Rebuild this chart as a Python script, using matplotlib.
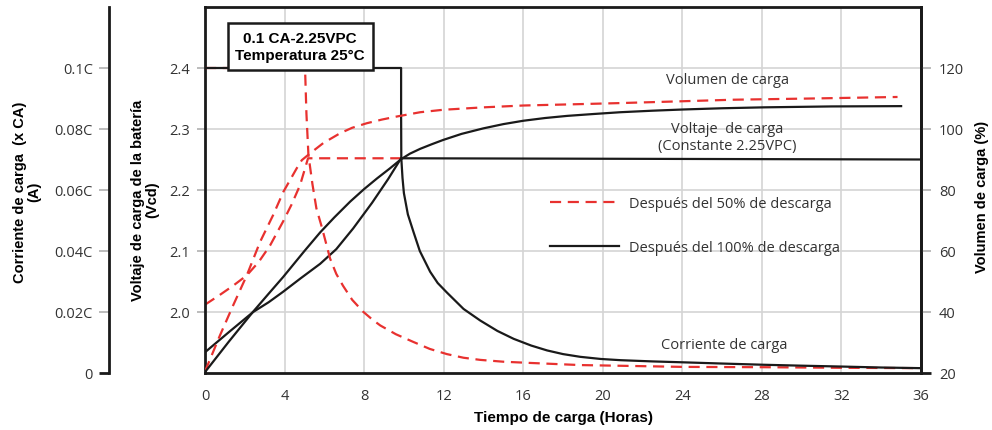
import numpy as np
import matplotlib
matplotlib.use('Agg')
import matplotlib.pyplot as plt

'''
DATA (read off the reference)
'''
# 100% discharge - voltage (Vcd)
v100_t = [0, 1.2, 2.42, 3.2, 3.92, 4.8, 5.79, 6.6, 7.45, 8.4, 9.21, 9.86, 36]
v100_v = [1.934, 1.967, 2.0, 2.016, 2.033, 2.055, 2.079, 2.103, 2.137, 2.179,
          2.218, 2.252, 2.250]

# 50% discharge - voltage (Vcd)
v50_t = [0, 0.7, 1.41, 2.10, 2.7, 3.27, 3.92, 4.35, 4.78, 5.18, 9.86]
v50_v = [2.012, 2.027, 2.043, 2.060, 2.082, 2.109, 2.148, 2.176, 2.208,
         2.252, 2.252]

# 100% discharge - charge volume (%)
q100_t = [0, 1.2, 2.42, 3.2, 3.92, 5.0, 5.79, 6.5, 7.30, 8.0, 8.65, 9.3,
          9.86, 10.3, 10.82, 11.4, 11.97, 12.9, 13.99, 15.0, 16.0, 17.1,
          18.21, 19.5, 20.88, 22.5, 24.05, 26.0, 28.1, 31.5, 35.0]
q100_q = [20.3, 30.3, 40.1, 46.0, 51.4, 60.0, 66.1, 71.0, 76.2, 80.3, 83.8,
          87.1, 90.1, 91.9, 93.5, 95.0, 96.4, 98.4, 100.2, 101.6, 102.7,
          103.6, 104.3, 104.9, 105.5, 106.0, 106.4, 106.8, 107.1, 107.4, 107.5]

# 50% discharge - charge volume (%)
q50_t = [0, 0.75, 1.41, 2.10, 2.77, 3.42, 3.94, 4.61, 4.87, 5.28, 5.95,
         6.79, 7.4, 8.14, 8.9, 9.65, 10.82, 11.97, 14.0, 16.0, 18.5, 20.88,
         23.5, 26.57, 30.5, 34.82]
q50_q = [20.5, 32.3, 42.1, 52.0, 63.0, 71.7, 79.4, 87.1, 89.8, 92.0, 95.4,
         98.6, 100.4, 101.9, 103.1, 104.1, 105.5, 106.3, 107.1, 107.7, 108.1,
         108.5, 109.0, 109.6, 110.0, 110.5]

# 100% discharge - charge current (x CA)
c100_t = [0, 9.86, 9.86, 9.87, 9.93, 10.0, 10.2, 10.48, 10.8, 11.32, 11.7,
          12.16, 13.0, 13.84, 14.7, 15.52, 16.4, 17.2, 18.0, 18.87, 19.9,
          20.9, 22.5, 24.05, 26.0, 28.1, 30.0, 32.1, 34.0, 35.9]
c100_c = [0.1, 0.1, 0.085, 0.0704, 0.064, 0.059, 0.052, 0.0463, 0.040,
          0.0332, 0.0295, 0.0264, 0.021, 0.0172, 0.0138, 0.0112, 0.0090,
          0.0074, 0.0062, 0.0053, 0.0046, 0.0042, 0.0038, 0.0035, 0.0031,
          0.0027, 0.0024, 0.0021, 0.0018, 0.0016]

# 50% discharge - charge current (x CA)
c50_t = [0, 5.03, 5.1, 5.2, 5.4, 5.6, 5.87, 6.29, 6.6, 6.94, 7.4, 7.95, 8.4,
         8.81, 9.6, 10.47, 11.3, 12.16, 13.0, 13.84, 15.0, 16.35, 18.87,
         21.5, 24.05, 28.1, 32.1, 35.8]
c50_c = [0.1, 0.1, 0.085, 0.0715, 0.062, 0.054, 0.0479, 0.0375, 0.0325,
         0.0286, 0.024, 0.0201, 0.0176, 0.0156, 0.0127, 0.0102, 0.0079,
         0.0062, 0.0050, 0.0043, 0.0037, 0.0033, 0.0026, 0.0023, 0.0020,
         0.0019, 0.0017, 0.0016]

x_ticks = [0, 4, 8, 12, 16, 20, 24, 28, 32, 36]
v_ticks = [2.0, 2.1, 2.2, 2.3, 2.4]
c_ticks = [0, 0.02, 0.04, 0.06, 0.08, 0.1]
c_labels = ['0', '0.02C', '0.04C', '0.06C', '0.08C', '0.1C']
q_ticks = [20, 40, 60, 80, 100, 120]

'''
STYLE
'''
RED = '#e8312f'
BLK = '#1a1a1a'
GRID = '#d4d4d4'
LW = 1.6
DASH = (5, 3)
plain = ['Open Sans', 'DejaVu Sans']
bold = ['Liberation Sans Narrow', 'Liberation Sans', 'DejaVu Sans']
plt.rcParams['font.family'] = plain

fig = plt.figure(figsize=(9.92, 4.31), dpi=100)
ax = fig.add_axes([205/992, 57/431, 716/992, 366/431])
ax_c = ax.twinx()
ax_q = ax.twinx()

# voltage axis (inner left)
ax.set_xlim(0, 36)
ax.set_ylim(1.9, 2.5)
ax.set_xticks(x_ticks)
ax.set_yticks(v_ticks)
ax.set_yticklabels(['%.1f' % v for v in v_ticks])
ax.grid(True, color=GRID, lw=1.2)
ax.tick_params(axis='y', length=6, width=1.2, color='#b0b0b0', pad=5,
               labelsize=10.5, labelcolor='#333333')
ax.tick_params(axis='x', length=0, pad=11, labelsize=10.5, labelcolor='#333333')
ax.set_xticks([0, 36], minor=True)
ax.tick_params(axis='x', which='minor', length=7, width=1.6, color=BLK)
for s in ax.spines.values():
    s.set_linewidth(2)
    s.set_color(BLK)

# current axis (outer left)
ax_c.set_ylim(0, 0.12)
ax_c.yaxis.set_ticks_position('left')
ax_c.yaxis.set_label_position('left')
ax_c.spines['left'].set_position(('axes', -0.134))
ax_c.spines['left'].set_linewidth(2)
ax_c.spines['left'].set_color(BLK)
for k in ['right', 'top', 'bottom']:
    ax_c.spines[k].set_visible(False)
ax_c.set_yticks(c_ticks)
ax_c.set_yticklabels(c_labels)
ax_c.tick_params(axis='y', length=7.5, width=1.2, color='#b0b0b0', pad=4,
                 labelsize=10.5, labelcolor='#333333')
t0 = ax_c.yaxis.get_major_ticks()[0].tick1line
t0.set_markeredgecolor(BLK)
t0.set_markeredgewidth(2)

# charge volume axis (right)
ax_q.set_ylim(20, 140)
ax_q.set_yticks(q_ticks)
for k in ['left', 'top', 'bottom']:
    ax_q.spines[k].set_visible(False)
ax_q.spines['right'].set_linewidth(2)
ax_q.spines['right'].set_color(BLK)
ax_q.tick_params(axis='y', length=7, width=1.2, color='#b0b0b0', pad=6,
                 labelsize=10.5, labelcolor='#333333')
t20 = ax_q.yaxis.get_major_ticks()[0].tick2line
t20.set_markeredgecolor(BLK)
t20.set_markeredgewidth(2)

# curves
ax.plot(v50_t, v50_v, color=RED, lw=LW, dashes=DASH)
ax.plot(v100_t, v100_v, color=BLK, lw=LW)
ax_q.plot(q50_t, q50_q, color=RED, lw=LW, dashes=DASH)
ax_q.plot(q100_t, q100_q, color=BLK, lw=LW)
l50, = ax_c.plot(c50_t, c50_c, color=RED, lw=LW, dashes=DASH,
                 label='Después del 50% de descarga')
l100, = ax_c.plot(c100_t, c100_c, color=BLK, lw=LW,
                  label='Después del 100% de descarga')

leg = ax_q.legend(handles=[l50, l100], loc='upper left',
                  bbox_to_anchor=(0.482, 0.483), frameon=False,
                  handlelength=4.7, handletextpad=0.7, labelspacing=2.0,
                  borderpad=0, borderaxespad=0, fontsize=10.5)
for t in leg.get_texts():
    t.set_color('#333333')

# annotations
ax_q.text(0.133, 0.892, '0.1 CA-2.25VPC\nTemperatura 25°C', transform=ax.transAxes,
          ha='center', va='center', fontsize=11, fontweight='bold',
          family=bold, linespacing=1.3, zorder=10,
          bbox=dict(boxstyle='square,pad=0.5', fc='white', ec=BLK, lw=1.8))
ax.text(26.26, 2.381, 'Volumen de carga', ha='center', va='center',
        fontsize=10.5, color='#333333')
ax.text(26.26, 2.287, 'Voltaje  de carga\n(Constante 2.25VPC)', ha='center',
        va='center', fontsize=10.5, color='#333333', linespacing=1.25)
ax.text(26.1, 1.946, 'Corriente de carga', ha='center', va='center',
        fontsize=10.5, color='#333333')

# axis labels
ax.set_xlabel('Tiempo de carga (Horas)', fontsize=11, fontweight='bold',
              family=bold, labelpad=5)
fig.text(145/992, 1 - 200/431, 'Voltaje de carga de la batería\n(Vcd)',
         rotation=90, ha='center', va='center', fontsize=10.5,
         fontweight='bold', family=bold, linespacing=1.05)
fig.text(27/992, 1 - 192/431, 'Corriente de carga  (x CA)\n(A)',
         rotation=90, ha='center', va='center', fontsize=10.5,
         fontweight='bold', family=bold, linespacing=1.05)
fig.text(982/992, 1 - 197/431, 'Volumen de carga (%)',
         rotation=90, ha='center', va='center', fontsize=10.5,
         fontweight='bold', family=bold)

fig.savefig('out.png', dpi=100)
